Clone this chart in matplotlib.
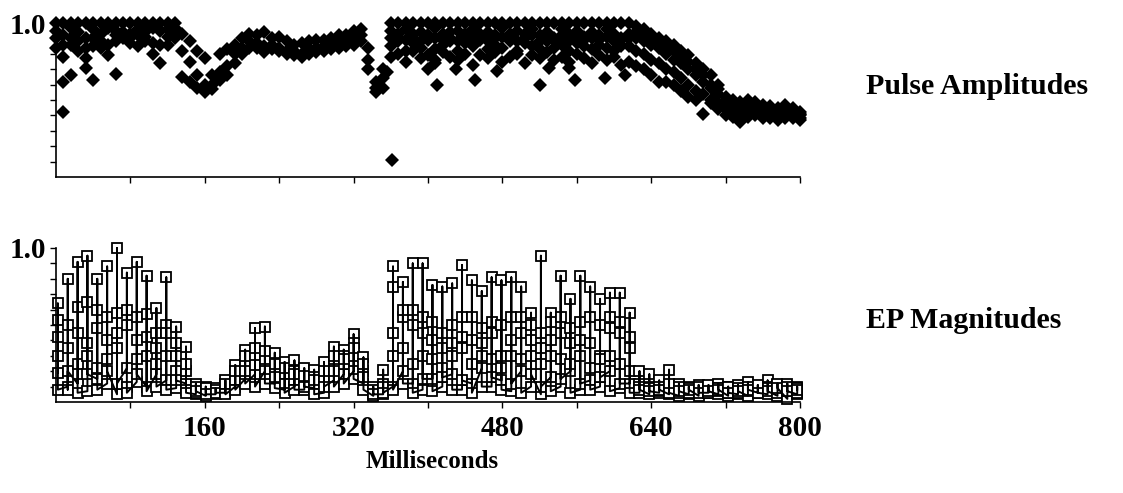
import numpy as np
import matplotlib
matplotlib.use("Agg")
import matplotlib.pyplot as plt
from matplotlib.ticker import FixedLocator, FuncFormatter

# ---------------- data ----------------
# Pulse amplitudes: sampled every 8 ms (0..800 ms), several pulses per sample
pulse_ms = np.arange(0, 801, 8)
nan = np.nan
amp_a = [1.0]*17 + [0.93, 0.88, 0.82, 0.77, 0.66, 0.80, 0.83, 0.86, 0.90, 0.93, 0.92, 0.94, 0.90, 0.91,
         0.88, 0.86, 0.87, 0.88, 0.89, 0.89, 0.90, 0.92, 0.92, 0.95, 0.96, 0.84, 0.62, 0.70] + [1.0]*33 + \
        [0.98, 0.96, 0.93, 0.90, 0.88, 0.86, 0.82, 0.79, 0.74, 0.70, 0.66, 0.60, 0.52, 0.50, 0.49, 0.50,
         0.49, 0.47, 0.46, 0.45, 0.47, 0.45, 0.42]
amp_b = [0.95, 0.92, 0.97, 0.94, 0.90, 0.96, 0.93, 0.97, 0.95, 0.92, 0.93, 0.96, 0.94, 0.97, 0.95, 0.96, 0.97,
         0.82, 0.75, 0.66, 0.60, 0.60, 0.68, 0.72, 0.80, 0.84, 0.88, 0.87, 0.85, 0.86, 0.84,
         0.82, 0.82, 0.80, 0.83, 0.84, 0.85, 0.86, 0.88, 0.88, 0.90, 0.92, 0.76, 0.58, 0.64,
         0.95, 0.93, 0.96, 0.90, 0.94, 0.92, 0.97, 0.93, 0.90, 0.95, 0.93, 0.96, 0.91, 0.94, 0.92, 0.97,
         0.90, 0.95, 0.93, 0.96, 0.92, 0.94, 0.90, 0.96, 0.93, 0.95, 0.91, 0.94, 0.92, 0.96, 0.93, 0.90, 0.93,
         0.90, 0.88, 0.86, 0.84, 0.80, 0.76, 0.74, 0.70, 0.66, 0.62, 0.58, 0.54, 0.48, 0.46, 0.45, 0.46,
         0.45, 0.44, 0.43, 0.42, 0.44, 0.42, 0.40]
amp_c = [0.84, 0.78, 0.86, 0.82, 0.77, 0.85, 0.84, 0.79, 0.88, 0.90, 0.87, 0.85, 0.88, 0.80, 0.74, 0.86, 0.90,
         0.65, 0.62, 0.58, 0.55, 0.57, 0.63, 0.66, 0.74, 0.80, 0.84, 0.84, 0.81, 0.83, 0.82,
         0.80, 0.79, 0.78, 0.80, 0.81, 0.82, 0.83, 0.84, 0.85, 0.86, 0.88, 0.70, 0.55, 0.58,
         0.85, 0.88, 0.82, 0.87, 0.84, 0.89, 0.83, 0.86, 0.88, 0.82, 0.87, 0.85, 0.89, 0.83, 0.86, 0.84,
         0.88, 0.82, 0.87, 0.85, 0.83, 0.88, 0.84, 0.86, 0.82, 0.87, 0.85, 0.83, 0.86, 0.84, 0.82, 0.85, 0.85,
         0.82, 0.80, 0.76, 0.74, 0.70, 0.68, 0.64, 0.60, 0.56, 0.54, 0.50, 0.48, 0.44, 0.42, 0.41, 0.42,
         0.42, 0.41, 0.40, 0.40, 0.41, 0.40, 0.38]
amp_d = [nan]*45 + \
        [0.78, 0.80, 0.75, 0.82, 0.77, 0.79, 0.74, 0.81, 0.78, 0.76, 0.80, 0.73, 0.79, 0.77, 0.81, 0.75,
         0.78, 0.80, 0.74, 0.79, 0.77, 0.81, 0.76, 0.78, 0.75, 0.80, 0.77, 0.74, 0.79, 0.76, 0.78, 0.73, 0.75,
         0.72, 0.70, 0.66, 0.62, 0.62, 0.60, 0.56, 0.52, 0.50, 0.41, 0.48, 0.44, 0.40, 0.39, 0.36, 0.39,
         0.40, 0.38, 0.38, 0.37, 0.38, 0.38, 0.37]
amp_e = [0.90, 0.86, 0.90, 0.88, 0.84, 0.90, 0.88, 0.86, 0.92, 0.94, 0.90, 0.92, 0.91, 0.87, 0.86, 0.91, 0.93] + \
        [nan]*28 + \
        [0.90, 0.91, 0.89, 0.93, 0.88, 0.92, 0.90, 0.89, 0.94, 0.88, 0.91, 0.90, 0.93, 0.88, 0.90, 0.91,
         0.93, 0.88, 0.90, 0.92, 0.88, 0.91, 0.89, 0.92, 0.88, 0.91, 0.89, 0.90, 0.89, 0.91, 0.88, 0.89, 0.90] + \
        [0.94, 0.92, 0.90, 0.87, 0.84, 0.82, 0.78, 0.75, 0.70, 0.66, 0.60, 0.57, 0.50, 0.48, 0.47, 0.48,
         0.47, 0.46, 0.44, 0.43, 0.46, 0.44, 0.41]
# isolated low pulses
low_ms = [8, 16, 32, 40, 64, 8, 356, 361, 400, 408, 410, 430, 450, 474, 520, 530, 552, 558, 590, 612]
low_amp = [0.62, 0.66, 0.71, 0.63, 0.67, 0.42, 0.68, 0.11, 0.70, 0.76, 0.60, 0.70, 0.63, 0.69, 0.60,
           0.71, 0.71, 0.63, 0.64, 0.66]

# EP magnitudes: sampled about every 10.6 ms, six EPs per sample
ep_ms = 2 + 10.6 * np.arange(76)
ep_peak = [0.64, 0.80, 0.91, 0.95, 0.80, 0.88, 1.00, 0.84, 0.91, 0.82, 0.61, 0.81, 0.49, 0.36,
           0.12, 0.10, 0.09, 0.14, 0.24, 0.34, 0.48, 0.49, 0.32, 0.26, 0.27, 0.22, 0.21, 0.26, 0.36, 0.34,
           0.44, 0.29, 0.10, 0.21, 0.88, 0.78, 0.90, 0.90, 0.76, 0.75, 0.77, 0.89, 0.79, 0.72, 0.81, 0.79,
           0.81, 0.75, 0.58, 0.95, 0.58, 0.82, 0.67, 0.82, 0.75, 0.67, 0.71, 0.71, 0.58, 0.20, 0.18, 0.14,
           0.21, 0.12, 0.10, 0.11, 0.10, 0.12, 0.10, 0.11, 0.13, 0.10, 0.14, 0.11, 0.12, 0.10]
ep_mid = [0.53, 0.35, 0.62, 0.65, 0.48, 0.55, 0.58, 0.60, 0.40, 0.57, 0.45, 0.50, 0.30, 0.20,
          0.08, 0.07, 0.07, 0.10, 0.18, 0.25, 0.30, 0.28, 0.20, 0.18, 0.20, 0.15, 0.16, 0.18, 0.28, 0.25,
          0.38, 0.20, 0.07, 0.12, 0.75, 0.55, 0.60, 0.45, 0.52, 0.35, 0.50, 0.55, 0.40, 0.48, 0.52, 0.30,
          0.55, 0.45, 0.50, 0.35, 0.52, 0.45, 0.38, 0.40, 0.55, 0.30, 0.48, 0.45, 0.42, 0.12, 0.10, 0.09,
          0.08, 0.08, 0.07, 0.08, 0.07, 0.09, 0.07, 0.08, 0.09, 0.07, 0.10, 0.08, 0.09, 0.07]
ep_mid2 = [0.42, 0.50, 0.45, 0.38, 0.60, 0.40, 0.45, 0.50, 0.55, 0.42, 0.35, 0.45, 0.38, 0.25,
           0.10, 0.09, 0.08, 0.12, 0.20, 0.30,
           0.35, 0.33, 0.25, 0.22, 0.18, 0.17, 0.14, 0.20, 0.30, 0.28, 0.35, 0.25, 0.08, 0.10,
           0.45, 0.60, 0.50, 0.55, 0.40, 0.45, 0.38, 0.42, 0.55, 0.38, 0.45, 0.50, 0.40, 0.55, 0.40, 0.45,
           0.40, 0.55, 0.48, 0.52, 0.38, 0.50, 0.55, 0.52, 0.35,
           0.10, 0.09, 0.10, 0.12, 0.10, 0.09, 0.10, 0.11, 0.09, 0.10, 0.09, 0.10, 0.11, 0.09, 0.12, 0.10, 0.09]
ep_low1 = [0.19, 0.10, 0.12, 0.07, 0.15, 0.12, 0.05, 0.22, 0.13, 0.10, 0.18, 0.14, 0.09, 0.12,
           0.05, 0.04, 0.05, 0.06, 0.10, 0.15, 0.18, 0.20, 0.12, 0.08, 0.10, 0.08, 0.09, 0.06, 0.14, 0.18,
           0.20, 0.12, 0.04, 0.05, 0.10, 0.20, 0.12, 0.08, 0.15, 0.10, 0.18, 0.08, 0.12, 0.22, 0.10, 0.14,
           0.07, 0.20, 0.10, 0.05, 0.16, 0.10, 0.20, 0.08, 0.14, 0.10, 0.20, 0.09, 0.12, 0.06, 0.05, 0.06,
           0.05, 0.04, 0.05, 0.04, 0.06, 0.05, 0.04, 0.05, 0.04, 0.06, 0.05, 0.04, 0.02, 0.05]
ep_low2 = [0.30, 0.08, 0.25, 0.30, 0.22, 0.28, 0.35, 0.10, 0.28, 0.30, 0.25, 0.30, 0.20, 0.08,
           0.06, 0.06, 0.06, 0.08, 0.14, 0.20, 0.24, 0.15, 0.16, 0.12, 0.14, 0.12, 0.12, 0.14, 0.20, 0.30,
           0.30, 0.16, 0.06, 0.08, 0.30, 0.35, 0.25, 0.30, 0.28, 0.22, 0.30, 0.35, 0.25, 0.30, 0.28, 0.22,
           0.30, 0.28, 0.30, 0.25, 0.30, 0.28, 0.25, 0.30, 0.22, 0.28, 0.30, 0.25, 0.20, 0.09, 0.08, 0.07,
           0.07, 0.06, 0.06, 0.07, 0.06, 0.07, 0.06, 0.06, 0.07, 0.06, 0.08, 0.06, 0.07, 0.06]
ep_low3 = [0.08, 0.20, 0.06, 0.18, 0.08, 0.20, 0.12, 0.06, 0.18, 0.07, 0.10, 0.08, 0.14, 0.06,
           0.07, 0.05, 0.06, 0.05, 0.08, 0.12,
           0.10, 0.12, 0.09, 0.06, 0.08, 0.10, 0.05, 0.10, 0.10, 0.12, 0.15, 0.08, 0.05, 0.06,
           0.08, 0.12, 0.06, 0.15, 0.07, 0.16, 0.08, 0.14, 0.06, 0.10, 0.16, 0.08, 0.12, 0.06, 0.18, 0.10,
           0.07, 0.15, 0.06, 0.12, 0.08, 0.16, 0.07, 0.12, 0.06,
           0.08, 0.07, 0.08, 0.06, 0.07, 0.08, 0.06, 0.07, 0.08, 0.06, 0.07, 0.08, 0.06, 0.07, 0.09, 0.07, 0.08]

x_ticks = [80, 160, 240, 320, 400, 480, 560, 640, 720, 800]
x_labels = [160, 320, 480, 640, 800]
y_ticks = [0.1, 0.2, 0.3, 0.4, 0.5, 0.6, 0.7, 0.8, 0.9, 1.0]

# ---------------- figure ----------------
W, H = 1123, 493
fig = plt.figure(figsize=(W / 100, H / 100), dpi=100)
FONT = dict(family="Liberation Serif", weight="bold")
tick_fs = 21
side_fs = 21.5
xlab_fs = 18

def px_axes(left, top, right, bottom):
    return fig.add_axes([left / W, 1 - bottom / H, (right - left) / W, (bottom - top) / H])

ax1 = px_axes(56, 23, 800, 177)
ax2 = px_axes(56, 248, 800, 402)

for ax in (ax1, ax2):
    ax.set_xlim(0, 800)
    ax.set_ylim(0, 1.0)
    for s in ("top", "right"):
        ax.spines[s].set_visible(False)
    ax.spines["left"].set_linewidth(1.2)
    ax.spines["bottom"].set_linewidth(1.2)
    ax.xaxis.set_major_locator(FixedLocator(x_ticks))
    ax.yaxis.set_major_locator(FixedLocator(y_ticks))
    ax.tick_params(direction="out", length=4, width=1.0, color="black")
    ax.yaxis.set_major_formatter(FuncFormatter(lambda v, p: "1.0" if abs(v - 1.0) < 1e-9 else ""))
    ax.tick_params(axis="y", pad=3, labelsize=tick_fs)

ax1.xaxis.set_major_formatter(FuncFormatter(lambda v, p: ""))
ax2.xaxis.set_major_formatter(FuncFormatter(lambda v, p: f"{int(v)}" if int(round(v)) in x_labels else ""))
ax2.tick_params(axis="x", labelsize=tick_fs, pad=5)
for ax in (ax1, ax2):
    for lab in ax.get_xticklabels() + ax.get_yticklabels():
        lab.set_family("Liberation Serif")
        lab.set_weight("bold")

# top: pulse amplitudes (filled diamonds)
for series in (amp_d, amp_c, amp_e, amp_b, amp_a):
    ax1.plot(pulse_ms, series, linestyle="none", marker="D", markersize=7.5,
             color="black", markeredgewidth=0, clip_on=False)
ax1.plot(low_ms, low_amp, linestyle="none", marker="D", markersize=7.5,
         color="black", markeredgewidth=0, clip_on=False)

# bottom: EP magnitudes (open squares, connecting line drawn over them)
ep_x = np.repeat(ep_ms, 6)
ep_y = np.column_stack([ep_low1, ep_peak, ep_mid, ep_low2, ep_mid2, ep_low3]).ravel()
ax2.plot(ep_x, ep_y, linestyle="none", marker="s", markersize=6.5,
         markerfacecolor="white", markeredgecolor="black", markeredgewidth=1.3,
         clip_on=False, zorder=2)
ax2.plot(ep_x, ep_y, color="black", linewidth=1.4, clip_on=False, zorder=3)

fig.text(866 / W, 1 - 86 / H, "Pulse Amplitudes", ha="left", va="center", size=side_fs, **FONT)
fig.text(866 / W, 1 - 320 / H, "EP Magnitudes", ha="left", va="center", size=side_fs, **FONT)
fig.text(432 / W, 1 - 462 / H, "Milliseconds", ha="center", va="center", size=xlab_fs, **FONT)

fig.savefig("out.png", dpi=100)
